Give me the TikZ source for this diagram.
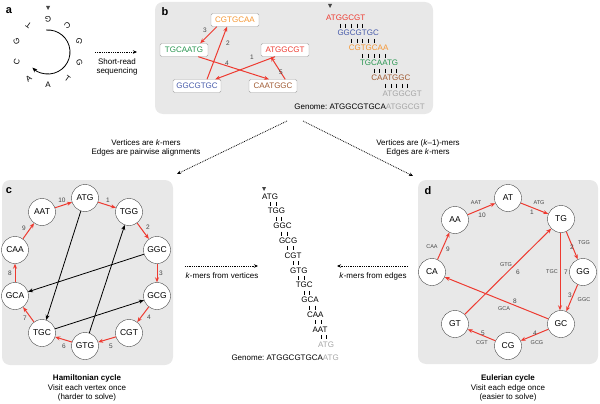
\documentclass[tikz,border=0pt]{standalone}
\usepackage{fontspec}
\setmainfont{Liberation Sans}
\usetikzlibrary{arrows.meta}
\definecolor{myred}{RGB}{238,58,48}
\definecolor{myor}{RGB}{245,150,50}
\definecolor{mygr}{RGB}{40,150,80}
\definecolor{mybl}{RGB}{70,90,170}
\definecolor{mybr}{RGB}{160,90,50}
\definecolor{panel}{RGB}{232,232,232}
\definecolor{lgray}{RGB}{165,165,165}
\definecolor{dgray}{RGB}{70,70,70}
\begin{document}
\begin{tikzpicture}[x=1pt,y=-1pt,
  pan/.style={fill=panel,draw=none,rounded corners=8pt},
  plab/.style={font=\fontsize{11}{11}\selectfont\bfseries},
  rd/.style={draw=lgray,fill=white,rounded corners=1.5pt,inner sep=1.5pt,minimum width=48pt,minimum height=13pt,font=\fontsize{8}{8}\selectfont},
  ra/.style={myred,line width=1pt,-{Stealth[length=5pt,width=4pt]}},
  ba/.style={black,line width=0.8pt,-{Stealth[length=5pt,width=4pt]}},
  dot/.style={densely dotted,line width=0.8pt,-{Stealth[length=4pt,width=3.5pt]}},
  vx/.style={circle,draw=dgray,fill=white,minimum size=27pt,inner sep=0pt,font=\fontsize{8.5}{8.5}\selectfont},
  num/.style={font=\fontsize{6.5}{6.5}\selectfont,text=dgray,inner sep=0pt},
  sm/.style={font=\fontsize{5.5}{5.5}\selectfont,text=dgray,inner sep=0pt},
  captxt/.style={font=\fontsize{8}{9.5}\selectfont,align=center},
  st/.style={font=\fontsize{8}{8}\selectfont,anchor=base west,inner sep=0pt},
  tk/.style={line width=0.6pt}]
\useasboundingbox (0,0) rectangle (600,404);
% panels
\fill[pan] (155,2) rectangle (433,114);
\fill[pan] (2,180) rectangle (173,365);
\fill[pan] (418,180) rectangle (598,364);
\node[plab] (la) at (9,11) {a};
\node[plab] (lb) at (165,12) {b};
\node[plab] (lc) at (9,191) {c};
\node[plab] (ld) at (428,191) {d};
% panel a
\foreach \l [count=\i from 0] in {A,T,G,G,C,G,T,G,C,A}{
  \pgfmathsetmacro{\ang}{90-36*\i}
  \node[font=\fontsize{8}{8}\selectfont,rotate=-36*\i,inner sep=0pt] at ([shift={(\ang:33)}]48,52) {\l};
}
\fill[dgray] (46,6) -- (50,6) -- (48,10) -- cycle;
\draw[line width=0.8pt,-{Stealth[length=5pt,width=4pt]}] ([shift={(-95:22)}]48,52) arc[start angle=-95,end angle=135,radius=22];
\coordinate (sa) at (95,52); \coordinate (sb) at (137,52);
\draw[dot] (sa) -- (sb);
\node[captxt] (srs) at (117,67) {Short-read\\sequencing};
% panel b nodes
\node[rd,text=myor] (b3) at (235,20) {CGTGCAA};
\node[rd,text=mygr] (b4) at (184,50) {TGCAATG};
\node[rd,text=myred] (b1) at (285,50) {ATGGCGT};
\node[rd,text=mybl] (b2) at (197,86) {GGCGTGC};
\node[rd,text=mybr] (b5) at (273,86) {CAATGGC};
\draw[ra] ([xshift=-10pt]b1.south) -- ([xshift=-6pt]b2.north east);
\draw[ra] ([xshift=10pt]b2.north) -- ([xshift=-8pt]b3.south);
\draw[ra] ([xshift=6pt]b3.south west) -- ([xshift=-8pt]b4.north east);
\draw[ra] ([xshift=-10pt]b4.south east) -- ([xshift=-4pt]b5.north);
\draw[ra] ([xshift=-12pt]b5.north east) -- ([xshift=10pt]b1.south west);
\node[num] (n1) at (252,57) {1};
\node[num] (n2) at (228,43) {2};
\node[num] (n3) at (205,30) {3};
\node[num] (n4) at (227,63) {4};
\node[num] (n5) at (281,72) {5};
% stack b
\fill[dgray] (328,4) -- (332,4) -- (330,8) -- cycle;
\foreach \s/\c [count=\i from 0] in {ATGGCGT/myred,GGCGTGC/mybl,CGTGCAA/myor,TGCAATG/mygr,CAATGGC/mybr,ATGGCGT/lgray}{
  \node[st,text=\c] at (326+11.3*\i,21+15*\i) {\s};
}
\foreach \i in {0,...,4}{\foreach \j in {0,...,4}{
  \draw[tk] (326+11.3*\i+11.3+5.6*\j+2.8,24+15*\i) -- ++(0,4);}}
\node[font=\fontsize{8}{8}\selectfont,anchor=base east,inner sep=0pt] (gb) at (425,110) {Genome:\ ATGGCGTGCA\textcolor{lgray}{ATGGCGT}};
% connectors between panels
\coordinate (d1) at (287,121); \coordinate (d2) at (177,174);
\coordinate (d3) at (303,121); \coordinate (d4) at (413,176);
\draw[dot] (d1) -- (d2);
\draw[dot] (d3) -- (d4);
\node[captxt] (cl) at (146,148) {Vertices are \textit{k}-mers\\Edges are pairwise alignments};
\node[captxt] (cr) at (418,148) {Vertices are (\textit{k}--1)-mers\\Edges are \textit{k}-mers};
% panel c
\node[vx] (ATG) at (85,198) {ATG};
\node[vx] (TGG) at (129,212) {TGG};
\node[vx] (GGC) at (157,250) {GGC};
\node[vx] (GCG) at (157,296) {GCG};
\node[vx] (CGT) at (129,333) {CGT};
\node[vx] (GTG) at (85,346) {GTG};
\node[vx] (TGC) at (42,333) {TGC};
\node[vx] (GCA) at (15,296) {GCA};
\node[vx] (CAA) at (15,250) {CAA};
\node[vx] (AAT) at (42,212) {AAT};
\foreach \a/\b in {ATG/TGG,TGG/GGC,GGC/GCG,GCG/CGT,CGT/GTG,GTG/TGC,TGC/GCA,GCA/CAA,CAA/AAT,AAT/ATG}{\draw[ra] (\a) -- (\b);}
\draw[ba] (ATG) -- (TGC);
\draw[ba] (GTG) -- (TGG);
\draw[ba] (GGC) -- (GCA);
\draw[ba] (TGC) -- (GCG);
\foreach \t/\p in {1/{108,200},2/{148,227},3/{161,273},4/{149,317},5/{111,346},6/{64,346},7/{25,318},8/{10,273},9/{24,228},10/{62,200}}{\node[num] at (\p) {\t};}
\node[captxt] (capc) at (87,388) {\textbf{Hamiltonian cycle}\\Visit each vertex once\\(harder to solve)};
% middle
\coordinate (m1) at (185,266); \coordinate (m2) at (258,266);
\draw[dot] (m1) -- (m2);
\node[captxt] (mv) at (222,276) {\textit{k}-mers from vertices};
\coordinate (m3) at (408,266); \coordinate (m4) at (337,266);
\draw[dot] (m3) -- (m4);
\node[captxt] (me) at (373,276) {\textit{k}-mers from edges};
\fill[dgray] (262,187) -- (266,187) -- (264,191) -- cycle;
\foreach \s [count=\i from 0] in {ATG,TGG,GGC,GCG,CGT,GTG,TGC,GCA,CAA,AAT}{
  \node[st] at (262+5.6*\i,199+14.8*\i) {\s};
  \draw[tk] (262+5.6*\i+5.6+2.8,202+14.8*\i) -- ++(0,4);
  \draw[tk] (262+5.6*\i+11.2+2.8,202+14.8*\i) -- ++(0,4);
}
\node[st,text=lgray] at (318,347) {ATG};
\node[font=\fontsize{8}{8}\selectfont,anchor=base east,inner sep=0pt] (gm) at (339,360) {Genome:\ ATGGCGTGCA\textcolor{lgray}{ATG}};
% panel d
\node[vx] (AT) at (508,198) {AT};
\node[vx] (TG) at (561,219) {TG};
\node[vx] (GG) at (583,272) {GG};
\node[vx] (GC) at (561,324) {GC};
\node[vx] (CG) at (508,346) {CG};
\node[vx] (GT) at (455,324) {GT};
\node[vx] (CA) at (432,272) {CA};
\node[vx] (AA) at (455,220) {AA};
\foreach \a/\b in {AA/AT,AT/TG,TG/GG,GG/GC,GC/CG,CG/GT,GT/TG,GC/CA,CA/AA}{\draw[ra] (\a) -- (\b);}
\draw[ra] ([xshift=-1pt]TG.south) -- ([xshift=-1pt]GC.north);
\foreach \t/\p in {10/{482,215},1/{532,212},2/{572,247},3/{570,295},7/{566,272},4/{535,333},5/{483,333},6/{518,272},8/{515,301},9/{448,249}}{\node[num] at (\p) {\t};}
\foreach \t/\p in {AAT/{476,203},ATG/{539,203},TGG/{584,243},GGC/{584,300},TGC/{552,272},GCG/{537,343},CGT/{482,343},GTG/{506,265},GCA/{504,309},CAA/{432,247}}{\node[sm] at (\p) {\t};}
\node[captxt] (capd) at (508,388) {\textbf{Eulerian cycle}\\Visit each edge once\\(easier to solve)};
\end{tikzpicture}
\end{document}
